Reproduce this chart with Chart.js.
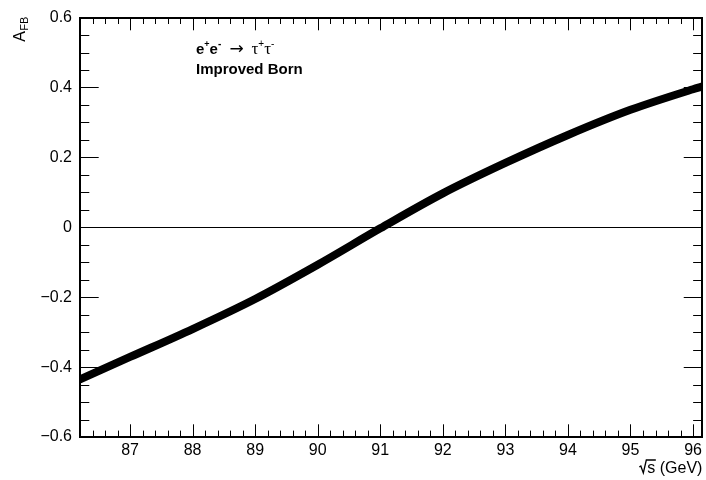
<!DOCTYPE html>
<html><head><meta charset="utf-8">
<script src="https://cdn.jsdelivr.net/npm/chart.js@4"></script>
<style>html,body{margin:0;padding:0;background:#fff;overflow:hidden}</style>
</head><body>
<canvas id="c" width="706" height="480"></canvas>
<script>
// ---- data ----
const sqrtS = [86.2, 87.0, 88.0, 89.0, 90.0, 91.0, 92.0, 93.0, 94.0, 95.0, 96.0, 96.15];
const afb   = [-0.435, -0.371, -0.291, -0.205, -0.107, -0.003, 0.097, 0.184, 0.264, 0.336, 0.395, 0.403];
const xTickValues = [87, 88, 89, 90, 91, 92, 93, 94, 95, 96];
const yTickValues = [-0.6, -0.4, -0.2, 0, 0.2, 0.4, 0.6];
const xRange = [86.2, 96.15];
const yRange = [-0.6, 0.6];
const yTitleMain = 'A', yTitleSub = 'FB';
const xTitle = '(GeV)', xTitleVar = 's';
const procLine = {beam: ['e','+','e','-'], arrow: '\u2192', tau: ['\u03C4','+','\u03C4','-']};
const schemeLabel = 'Improved Born';

const SANS = "'Liberation Sans', Arial, Helvetica, sans-serif";
const SERIF = "'Liberation Serif', 'DejaVu Serif', serif";
Chart.defaults.font.family = SANS;
Chart.defaults.color = '#000';

function fmtY(v){ v = Math.round(v*10)/10; if (v === 0) return '0'; return (v<0?'\u2212':'') + Math.abs(v).toFixed(1); }

const rootFrame = {
  id: 'rootFrame',
  beforeDatasetsDraw(chart){
    const {ctx, chartArea:a, scales:{x, y}} = chart;
    ctx.save(); ctx.strokeStyle = '#000'; ctx.lineWidth = 1;
    const py = Math.round(y.getPixelForValue(0)) + 0.5;
    ctx.beginPath(); ctx.moveTo(a.left, py); ctx.lineTo(a.right, py); ctx.stroke();
    const xMaj = 12.7, xMin = 6.4, yMaj = 18.7, yMin = 9.3;
    ctx.beginPath();
    for (let k = Math.ceil(x.min*5 - 1e-6); k <= Math.floor(x.max*5 + 1e-6); k++){
      const major = (k % 5 === 0);
      const p = Math.round(x.getPixelForValue(k/5)) + 0.5;
      const L = major ? xMaj : xMin;
      ctx.moveTo(p, a.bottom); ctx.lineTo(p, a.bottom - L);
      ctx.moveTo(p, a.top); ctx.lineTo(p, a.top + L);
    }
    for (let k = Math.ceil(y.min*20 - 1e-6); k <= Math.floor(y.max*20 + 1e-6); k++){
      const major = (k % 4 === 0);
      const p = Math.round(y.getPixelForValue(k/20)) + 0.5;
      const L = major ? yMaj : yMin;
      ctx.moveTo(a.left, p); ctx.lineTo(a.left + L, p);
      ctx.moveTo(a.right, p); ctx.lineTo(a.right - L, p);
    }
    ctx.stroke();
    ctx.restore();
  },
  afterDatasetsDraw(chart){
    const {ctx, chartArea:a} = chart;
    ctx.save(); ctx.strokeStyle = '#000'; ctx.lineWidth = 2;
    ctx.strokeRect(Math.round(a.left), Math.round(a.top), Math.round(a.right - a.left), Math.round(a.bottom - a.top));
    ctx.restore();
  },
  afterDraw(chart){
    const {ctx, chartArea:a} = chart;
    ctx.save(); ctx.fillStyle = '#000'; ctx.strokeStyle = '#000';
    // y title, rotated, ending at top of frame
    ctx.save();
    ctx.translate(25, a.top); ctx.rotate(-Math.PI/2);
    ctx.textAlign = 'right'; ctx.textBaseline = 'alphabetic';
    ctx.font = '11px ' + SANS;
    const wSub = ctx.measureText(yTitleSub).width;
    ctx.fillText(yTitleSub, 1, 2.5);
    ctx.font = '16px ' + SANS;
    ctx.fillText(yTitleMain, 1 - wSub - 0.5, 0);
    ctx.restore();
    // x title  "√s (GeV)"
    ctx.textBaseline = 'alphabetic'; ctx.textAlign = 'right';
    ctx.font = '16px ' + SANS;
    const base = 473;
    ctx.fillText(xTitle, a.right, base);
    const wG = ctx.measureText(xTitle + ' ').width;
    const sRight = a.right - wG;
    ctx.fillText(xTitleVar, sRight, base);
    const wS = ctx.measureText(xTitleVar).width;
    const sLeft = sRight - wS;
    ctx.lineWidth = 1.3;
    ctx.beginPath();
    ctx.moveTo(sLeft - 8, base - 6); ctx.lineTo(sLeft - 6.5, base - 7);
    ctx.lineTo(sLeft - 4, base); ctx.lineTo(sLeft - 1, base - 13);
    ctx.lineTo(sRight + 0.5, base - 13);
    ctx.stroke();
    // process label
    ctx.textAlign = 'left';
    let cx = 196; const b1 = 54;
    const runs = [
      [procLine.beam[0], 'bold 15px ' + SANS, 0],
      [procLine.beam[1], 'bold 9px ' + SANS, -7],
      [procLine.beam[2], 'bold 15px ' + SANS, 0],
      [procLine.beam[3], 'bold 10px ' + SANS, -7]
    ];
    for (const [t, f, dy] of runs){ ctx.font = f; ctx.fillText(t, cx, b1 + dy); cx += ctx.measureText(t).width; }
    ctx.font = "17px 'DejaVu Sans', sans-serif";
    ctx.fillText(procLine.arrow, 229.5, b1 - 0.5);
    cx = 251.5;
    const runs2 = [
      [procLine.tau[0], '17px ' + SERIF, 0],
      [procLine.tau[1], '10px ' + SANS, -7],
      [procLine.tau[2], '17px ' + SERIF, 0],
      [procLine.tau[3], '10px ' + SANS, -7]
    ];
    for (const [t, f, dy] of runs2){ ctx.font = f; ctx.fillText(t, cx, b1 + dy); cx += ctx.measureText(t).width; }
    ctx.font = 'bold 15px ' + SANS;
    ctx.fillText(schemeLabel, 196, 73.5);
    ctx.restore();
  }
};

new Chart(document.getElementById('c'), {
  type: 'scatter',
  data: {
    datasets: [{
      data: sqrtS.map((v, i) => ({x: v, y: afb[i]})),
      showLine: true, borderColor: '#000', backgroundColor: '#000',
      borderWidth: 8, pointRadius: 0, borderCapStyle: 'round', borderJoinStyle: 'round',
      cubicInterpolationMode: 'monotone', fill: false
    }]
  },
  options: {
    responsive: false, animation: false, devicePixelRatio: 1,
    layout: {padding: {left: 0, right: 3, top: 13, bottom: 0}},
    plugins: {legend: {display: false}, tooltip: {enabled: false}},
    scales: {
      x: {
        type: 'linear', position: 'bottom', min: xRange[0], max: xRange[1],
        grid: {display: false, drawTicks: false}, border: {display: false},
        afterBuildTicks(s){ s.ticks = xTickValues.map(v => ({value: v})); },
        afterFit(s){ s.height = 43; },
        ticks: {font: {size: 16}, color: '#000', padding: 4, maxRotation: 0, autoSkip: false,
                callback: v => String(Math.round(v))}
      },
      y: {
        type: 'linear', position: 'left', min: yRange[0], max: yRange[1],
        grid: {display: false, drawTicks: false}, border: {display: false},
        afterBuildTicks(s){ s.ticks = yTickValues.map(v => ({value: v})); },
        afterFit(s){ s.width = 80; },
        ticks: {font: {size: 16}, color: '#000', padding: 8, autoSkip: false, callback: v => fmtY(v)}
      }
    }
  },
  plugins: [rootFrame]
});
</script>
</body></html>
